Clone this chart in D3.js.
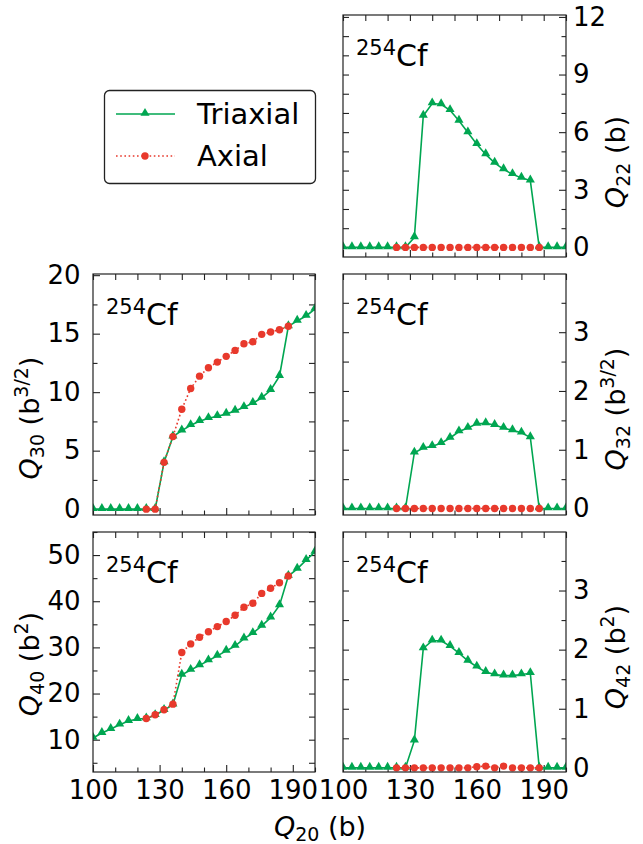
<!DOCTYPE html>
<html>
<head>
<meta charset="utf-8">
<script src="https://cdn.jsdelivr.net/npm/d3@7"></script>
<style>
  body { margin: 0; background: #fff; }
  svg, svg text { font-family: "DejaVu Sans", sans-serif; }
</style>
</head>
<body>
<div id="chart"></div>
<script>
// Q20 grid (b)
var q20Tri = [100, 104, 108, 112, 116, 120, 124, 128, 132, 136, 140, 144, 148, 152, 156, 160, 164, 168, 172, 176, 180, 184, 188, 192, 196, 200];
var q20Ax = [124, 128, 132, 136, 140, 144, 148, 152, 156, 160, 164, 168, 172, 176, 180, 184, 188];

// triaxial values
var q22Tri = [0, 0, 0, 0, 0, 0, 0, 0, 0.52, 6.85, 7.49, 7.45, 7.14, 6.59, 5.98, 5.37, 4.84, 4.40, 4.06, 3.81, 3.62, 3.48, 0, 0, 0, 0];
var q30Tri = [0, 0, 0, 0, 0, 0, 0, 0, 4.0, 6.2, 6.71, 7.17, 7.51, 7.77, 7.94, 8.14, 8.4, 8.71, 9.06, 9.51, 10.17, 11.37, 15.63, 16.09, 16.51, 17.11];
var q32Tri = [0, 0, 0, 0, 0, 0, 0, 0, 0.95, 1.03, 1.06, 1.11, 1.2, 1.31, 1.37, 1.44, 1.45, 1.42, 1.37, 1.33, 1.29, 1.21, 0, 0, 0, 0];
var q40Tri = [10.36, 11.44, 12.3, 13.24, 14.04, 14.47, 14.6, 15.3, 16.4, 17.6, 24.05, 25.1, 26.1, 27.15, 28.16, 29.24, 30.3, 31.9, 33.06, 34.65, 36.45, 39.1, 45.46, 47.0, 48.9, 50.7];
var q42Tri = [0, 0, 0, 0, 0, 0, 0, 0, 0.46, 2.02, 2.15, 2.15, 2.06, 1.94, 1.81, 1.71, 1.62, 1.58, 1.56, 1.56, 1.58, 1.60, 0, 0, 0, 0];

// axial values
var q22Ax = [0, 0, 0, 0, 0, 0, 0, 0, 0, 0, 0, 0, 0, 0, 0, 0, 0];
var q30Ax = [0, 0, 4.0, 6.2, 8.54, 10.31, 11.37, 12.09, 12.57, 13.06, 13.57, 14.14, 14.31, 14.94, 15.14, 15.34, 15.63];
var q32Ax = [0, 0, 0, 0, 0, 0, 0, 0, 0, 0, 0, 0, 0, 0, 0, 0, 0];
var q40Ax = [14.6, 15.4, 16.5, 17.7, 28.9, 30.76, 32.2, 33.4, 34.5, 35.6, 36.95, 38.7, 39.55, 41.7, 42.8, 44.0, 45.46];
var q42Ax = [0, 0, 0, 0, 0, 0, 0, 0, 0, 0.02, 0.03, 0, 0.03, 0, 0, 0, 0];

// ticks
var xMajor = [100, 130, 160, 190];
var xMinor = [110, 120, 140, 150, 170, 180, 200];
var legendLabels = ["Triaxial", "Axial"];

var green = "#00a651", red = "#e8392c";

var svg = d3.select("#chart").append("svg")
  .attr("width", 643)
  .attr("height", 844);

var colX = [[93, 315], [343, 566]];
var rowY = [[15, 257], [274, 515], [532, 772]];

var panels = [
  { id: "q22", col: 1, row: 0, dom: [-0.5, 12.1], major: [0, 3, 6, 9, 12], minor: [1, 2, 4, 5, 7, 8, 10, 11],
    tri: q22Tri, ax: q22Ax, sub: "22", unit: "b", sup: "", labY: 162 },
  { id: "q30", col: 0, row: 1, dom: [-0.5, 20.1], major: [0, 5, 10, 15, 20], minor: [2.5, 7.5, 12.5, 17.5],
    tri: q30Tri, ax: q30Ax, sub: "30", unit: "b", sup: "3/2", labY: 418 },
  { id: "q32", col: 1, row: 1, dom: [-0.11, 3.99], major: [0, 1, 2, 3], minor: [0.5, 1.5, 2.5, 3.5],
    tri: q32Tri, ax: q32Ax, sub: "32", unit: "b", sup: "3/2", labY: 409 },
  { id: "q40", col: 0, row: 2, dom: [3, 55], major: [10, 20, 30, 40, 50], minor: [5, 15, 25, 35, 45, 55],
    tri: q40Tri, ax: q40Ax, sub: "40", unit: "b", sup: "2", labY: 664 },
  { id: "q42", col: 1, row: 2, dom: [-0.07, 3.99], major: [0, 1, 2, 3], minor: [0.5, 1.5, 2.5, 3.5],
    tri: q42Tri, ax: q42Ax, sub: "42", unit: "b", sup: "2", labY: 657 }
];

panels.forEach(function(p) {
  var x0 = colX[p.col][0], x1 = colX[p.col][1];
  var y0 = rowY[p.row][0], y1 = rowY[p.row][1];
  var x = d3.scaleLinear().domain([100, 200]).range([x0, x1]);
  var y = d3.scaleLinear().domain(p.dom).range([y1, y0]);
  var g = svg.append("g");

  g.append("clipPath").attr("id", "clip-" + p.id)
    .append("rect").attr("x", x0).attr("y", y0).attr("width", x1 - x0).attr("height", y1 - y0);

  // ticks, all pointing inward
  function addAxis(axis, tr, labels) {
    var a = g.append("g").attr("transform", tr).call(axis);
    a.attr("font-family", null).attr("font-size", null);
    a.select(".domain").remove();
    a.selectAll("line").attr("stroke", "#222").attr("stroke-width", 1.1);
    a.selectAll("text").attr("font-size", "26px").attr("fill", "#000");
    if (!labels) a.selectAll("text").remove();
    return a;
  }
  var showX = p.row === 2;
  addAxis(d3.axisBottom(x).tickValues(xMajor).tickSize(-7).tickPadding(8.5).tickFormat(d3.format("d")), "translate(0," + y1 + ")", showX);
  addAxis(d3.axisBottom(x).tickValues(xMinor).tickSize(-4.5).tickFormat(""), "translate(0," + y1 + ")", false);
  addAxis(d3.axisTop(x).tickValues(xMajor.concat(xMinor)).tickSize(-6).tickFormat(""), "translate(0," + y0 + ")", false);

  var yfmt = function(d) { return String(d); };
  if (p.col === 0) {
    addAxis(d3.axisLeft(y).tickValues(p.major).tickSize(-7).tickPadding(12.5).tickFormat(yfmt), "translate(" + x0 + ",0)", true);
    addAxis(d3.axisLeft(y).tickValues(p.minor).tickSize(-4.5).tickFormat(""), "translate(" + x0 + ",0)", false);
    addAxis(d3.axisRight(y).tickValues(p.major.concat(p.minor)).tickSize(-6).tickFormat(""), "translate(" + x1 + ",0)", false);
  } else {
    addAxis(d3.axisRight(y).tickValues(p.major).tickSize(-7).tickPadding(7).tickFormat(yfmt), "translate(" + x1 + ",0)", true);
    addAxis(d3.axisRight(y).tickValues(p.minor).tickSize(-4.5).tickFormat(""), "translate(" + x1 + ",0)", false);
    addAxis(d3.axisLeft(y).tickValues(p.major.concat(p.minor)).tickSize(-6).tickFormat(""), "translate(" + x0 + ",0)", false);
  }

  var plot = g.append("g").attr("clip-path", "url(#clip-" + p.id + ")");

  // triaxial (green, solid, triangles)
  var triPts = q20Tri.map(function(q, i) { return [q, p.tri[i]]; });
  plot.append("path").datum(triPts)
    .attr("fill", "none").attr("stroke", green).attr("stroke-width", 1.6)
    .attr("d", d3.line().x(d => x(d[0])).y(d => y(d[1])));
  plot.selectAll(".tri").data(triPts).enter().append("path")
    .attr("transform", d => "translate(" + x(d[0]) + "," + (y(d[1]) - 0.8) + ")")
    .attr("d", d3.symbol().type(d3.symbolTriangle).size(36))
    .attr("fill", green);

  // axial (red, dotted, circles)
  var axPts = q20Ax.map(function(q, i) { return [q, p.ax[i]]; });
  plot.append("path").datum(axPts)
    .attr("fill", "none").attr("stroke", red).attr("stroke-width", 1.6)
    .attr("stroke-dasharray", "1.6,2.6")
    .attr("d", d3.line().x(d => x(d[0])).y(d => y(d[1])));
  plot.selectAll(".ax").data(axPts).enter().append("circle")
    .attr("cx", d => x(d[0])).attr("cy", d => y(d[1]))
    .attr("r", 3.7).attr("fill", red);

  // frame
  g.append("rect").attr("x", x0).attr("y", y0).attr("width", x1 - x0).attr("height", y1 - y0)
    .attr("fill", "none").attr("stroke", "#222").attr("stroke-width", 1.2);

  // nucleus label
  var nl = g.append("text").attr("x", x0 + 13).attr("y", y0 + 51).attr("font-size", "30px").attr("fill", "#000");
  nl.append("tspan").attr("font-size", "21px").attr("dy", "-11").text("254");
  nl.append("tspan").attr("dy", "11").text("Cf");

  // y axis label
  var lx = p.col === 0 ? 39 : 625;
  var lab = g.append("text")
    .attr("transform", "translate(" + lx + "," + p.labY + ") rotate(-90)")
    .attr("text-anchor", "middle").attr("font-size", "27px").attr("fill", "#000");
  lab.append("tspan").attr("font-style", "italic").text("Q");
  lab.append("tspan").attr("font-size", "19px").attr("dy", "5").text(p.sub);
  if (p.sup) {
    lab.append("tspan").attr("dy", "-5").text(" (" + p.unit);
    lab.append("tspan").attr("font-size", "19px").attr("dy", "-11").text(p.sup);
    lab.append("tspan").attr("dy", "11").text(")");
  } else {
    lab.append("tspan").attr("dy", "-5").text(" (" + p.unit + ")");
  }
});

// x axis label
var xl = svg.append("text").attr("x", 320).attr("y", 836)
  .attr("text-anchor", "middle").attr("font-size", "27px").attr("fill", "#000");
xl.append("tspan").attr("font-style", "italic").text("Q");
xl.append("tspan").attr("font-size", "19px").attr("dy", "5").text("20");
xl.append("tspan").attr("dy", "-5").text(" (b)");

// legend
var leg = svg.append("g");
leg.append("rect").attr("x", 104.5).attr("y", 90.5).attr("width", 211).attr("height", 93)
  .attr("rx", 5).attr("fill", "#fff").attr("stroke", "#222").attr("stroke-width", 1.3);
var legRows = [
  { y: 114, color: green, dash: null, marker: "tri" },
  { y: 156, color: red, dash: "1.6,2.6", marker: "circ" }
];
legRows.forEach(function(r, i) {
  leg.append("line").attr("x1", 116).attr("x2", 175).attr("y1", r.y).attr("y2", r.y)
    .attr("stroke", r.color).attr("stroke-width", 1.6).attr("stroke-dasharray", r.dash);
  if (r.marker === "tri") {
    leg.append("path").attr("transform", "translate(145," + (r.y - 0.8) + ")")
      .attr("d", d3.symbol().type(d3.symbolTriangle).size(36)).attr("fill", r.color);
  } else {
    leg.append("circle").attr("cx", 145).attr("cy", r.y).attr("r", 3.7).attr("fill", r.color);
  }
  leg.append("text").attr("x", 197).attr("y", r.y + 10).attr("font-size", "29px").attr("fill", "#000")
    .text(legendLabels[i]);
});
</script>
</body>
</html>
